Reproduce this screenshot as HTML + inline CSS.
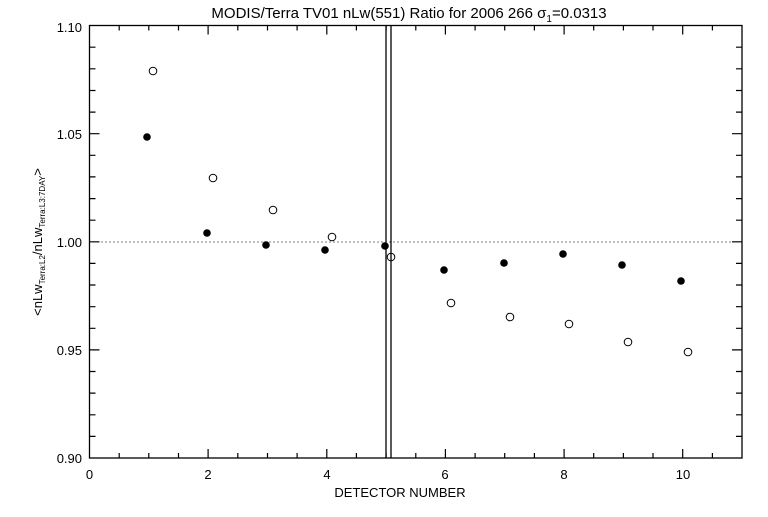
<!DOCTYPE html>
<html><head><style>
body{margin:0;background:#fff}
svg text{font-family:"Liberation Sans",sans-serif;fill:#000}
</style></head><body>
<svg width="768" height="512" xmlns="http://www.w3.org/2000/svg">
<rect width="768" height="512" fill="#fff"/>
<g stroke="#000" stroke-width="1.3" fill="none">
<rect x="89.5" y="25.5" width="652.5" height="432.5"/>
<line x1="386" y1="25.5" x2="386" y2="458"/>
<line x1="391" y1="25.5" x2="391" y2="458"/>
</g>
<line x1="89.5" y1="242" x2="742" y2="242" stroke="#000" stroke-width="1" stroke-dasharray="1,3"/>
<g stroke="#000" stroke-width="1.2">
<path d="M208.1 458v-9M326.8 458v-9M445.4 458v-9M564.1 458v-9M682.7 458v-9
M119.2 458v-5M148.8 458v-5M178.5 458v-5M237.8 458v-5M267.5 458v-5M297.1 458v-5M356.4 458v-5M386.1 458v-5M415.8 458v-5M475.1 458v-5M504.7 458v-5M534.4 458v-5M593.7 458v-5M623.4 458v-5M653 458v-5M712.4 458v-5
M208.1 25.5v9M326.8 25.5v9M445.4 25.5v9M564.1 25.5v9M682.7 25.5v9
M119.2 25.5v5M148.8 25.5v5M178.5 25.5v5M237.8 25.5v5M267.5 25.5v5M297.1 25.5v5M356.4 25.5v5M386.1 25.5v5M415.8 25.5v5M475.1 25.5v5M504.7 25.5v5M534.4 25.5v5M593.7 25.5v5M623.4 25.5v5M653 25.5v5M712.4 25.5v5
M89.5 349.9h10M89.5 241.8h10M89.5 133.7h10
M89.5 436.4h6M89.5 414.8h6M89.5 393.1h6M89.5 371.5h6M89.5 328.3h6M89.5 306.7h6M89.5 285h6M89.5 263.4h6M89.5 220.2h6M89.5 198.6h6M89.5 176.9h6M89.5 155.3h6M89.5 112.1h6M89.5 90.5h6M89.5 68.8h6M89.5 47.2h6
M742 349.9h-10M742 241.8h-10M742 133.7h-10
M742 436.4h-6M742 414.8h-6M742 393.1h-6M742 371.5h-6M742 328.3h-6M742 306.7h-6M742 285h-6M742 263.4h-6M742 220.2h-6M742 198.6h-6M742 176.9h-6M742 155.3h-6M742 112.1h-6M742 90.5h-6M742 68.8h-6M742 47.2h-6"/>
</g>
<g font-size="13" text-anchor="middle">
<text x="89.5" y="479">0</text><text x="208" y="479">2</text><text x="327" y="479">4</text>
<text x="445" y="479">6</text><text x="564" y="479">8</text><text x="683" y="479">10</text>
<text x="400" y="497">DETECTOR NUMBER</text>
<text x="409" y="18" font-size="15">MODIS/Terra TV01 nLw(551) Ratio for 2006 266 σ<tspan font-size="10" dy="4">1</tspan><tspan dy="-4">=0.0313</tspan></text>
</g>
<g font-size="13" text-anchor="end">
<text x="82" y="32">1.10</text><text x="82" y="139">1.05</text><text x="82" y="247">1.00</text>
<text x="82" y="355">0.95</text><text x="82" y="463">0.90</text>
</g>
<text transform="translate(42,242) rotate(-90)" font-size="13" text-anchor="middle">&lt;nLw<tspan font-size="8" dy="3">Terra:L2</tspan><tspan dy="-3">/nLw</tspan><tspan font-size="8" dy="3">Terra:L3:7DAY</tspan><tspan dy="-3">&gt;</tspan></text>
<g fill="#000">
<circle cx="147" cy="137" r="3.8"/><circle cx="207" cy="233" r="3.8"/><circle cx="266" cy="245" r="3.8"/>
<circle cx="325" cy="250" r="3.8"/><circle cx="385" cy="246" r="3.8"/><circle cx="444" cy="270" r="3.8"/>
<circle cx="504" cy="263" r="3.8"/><circle cx="563" cy="254" r="3.8"/><circle cx="622" cy="265" r="3.8"/>
<circle cx="681" cy="281" r="3.8"/>
</g>
<g fill="none" stroke="#000" stroke-width="1">
<circle cx="153" cy="71" r="3.8"/><circle cx="213" cy="178" r="3.8"/><circle cx="273" cy="210" r="3.8"/>
<circle cx="332" cy="237" r="3.8"/><circle cx="391" cy="257" r="3.8"/><circle cx="451" cy="303" r="3.8"/>
<circle cx="510" cy="317" r="3.8"/><circle cx="569" cy="324" r="3.8"/><circle cx="628" cy="342" r="3.8"/>
<circle cx="688" cy="352" r="3.8"/>
</g>
</svg>
</body></html>
